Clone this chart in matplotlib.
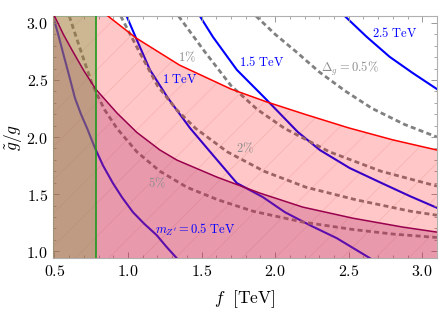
import numpy as np
import matplotlib.pyplot as plt
from matplotlib.ticker import MultipleLocator, FuncFormatter

plt.rcParams['mathtext.fontset'] = 'cm'
plt.rcParams['font.family'] = ['DejaVu Serif']
plt.rcParams['hatch.linewidth'] = 0.6

# plot range
xmin, xmax = 0.49, 3.1
ymin, ymax = 0.94, 3.06

# m_Z' contours (f [TeV], g~/g)
mz05_f = [0.49, 0.525, 0.558, 0.597, 0.639, 0.68, 0.721, 0.775, 0.83, 0.897, 0.96, 1.033, 1.11, 1.195, 1.26, 1.33]
mz05_y = [3.06, 2.90, 2.737, 2.55, 2.342, 2.20, 2.079, 1.904, 1.75, 1.596, 1.47, 1.342, 1.24, 1.14, 1.04, 0.94]
mz10_f = [0.99, 1.054, 1.149, 1.271, 1.421, 1.577, 1.740, 1.916, 2.066, 2.24, 2.419, 2.643]
mz10_y = [3.06, 2.868, 2.588, 2.342, 2.079, 1.842, 1.596, 1.474, 1.342, 1.225, 1.114, 0.94]
mz15_f = [1.488, 1.577, 1.740, 1.930, 2.154, 2.304, 2.507, 2.725, 2.92, 3.1]
mz15_y = [3.06, 2.877, 2.588, 2.342, 2.044, 1.886, 1.728, 1.596, 1.48, 1.38]
mz25_f = [2.473, 2.623, 2.779, 2.935, 3.1]
mz25_y = [3.06, 2.877, 2.702, 2.561, 2.42]

# Delta_g contours
d05_f = [1.87, 2.00, 2.14, 2.30, 2.48, 2.66, 2.88, 3.1]
d05_y = [3.06, 2.90, 2.75, 2.57, 2.40, 2.25, 2.11, 2.0]
d1_f = [1.343, 1.52, 1.70, 1.88, 2.065, 2.37, 2.72, 3.1]
d1_y = [3.06, 2.75, 2.45, 2.24, 2.075, 1.87, 1.70, 1.57]
d2_f = [0.95, 1.075, 1.20, 1.33, 1.46, 1.675, 1.925, 2.21, 2.55, 2.92, 3.1]
d2_y = [3.06, 2.75, 2.45, 2.24, 2.075, 1.87, 1.70, 1.56, 1.45, 1.35, 1.315]
d5_f = [0.60, 0.68, 0.76, 0.84, 0.925, 1.06, 1.217, 1.40, 1.611, 1.85, 2.188, 2.528, 2.8, 3.1]
d5_y = [3.06, 2.75, 2.45, 2.24, 2.075, 1.87, 1.70, 1.56, 1.45, 1.35, 1.255, 1.19, 1.15, 1.12]

# exclusion boundaries
red_f = [0.863, 1.054, 1.35, 1.5, 1.7, 1.944, 2.2, 2.5, 2.8, 3.1]
red_y = [3.06, 2.868, 2.63, 2.54, 2.42, 2.307, 2.20, 2.08, 1.975, 1.886]
pur_f = [0.50, 0.56, 0.62, 0.70, 0.78, 0.925, 1.06, 1.217, 1.332, 1.604, 1.896, 2.188, 2.528, 2.868, 3.1]
pur_y = [3.06, 2.90, 2.76, 2.58, 2.42, 2.21, 2.04, 1.886, 1.798, 1.649, 1.509, 1.386, 1.289, 1.211, 1.167]
f_cut = 0.78

fig = plt.figure(figsize=(4.4, 3.12), dpi=100)
ax = fig.add_axes([0.1205, 0.173, 0.8725, 0.7757])

blue = '#0000ff'
for fx, fy in [(mz05_f, mz05_y), (mz10_f, mz10_y), (mz15_f, mz15_y), (mz25_f, mz25_y)]:
    ax.plot(fx, fy, color=blue, lw=1.5, zorder=1)
for fx, fy in [(d05_f, d05_y), (d1_f, d1_y), (d2_f, d2_y), (d5_f, d5_y)]:
    ax.plot(fx, fy, color='#808080', lw=2, dashes=(1.8, 1.2), zorder=1)

# shaded regions
rx = [xmin, xmin] + red_f + [xmax]
ry = [ymin, ymax] + red_y + [ymin]
ax.fill(rx, ry, color='#ff0000', alpha=0.22, lw=0, zorder=2)
ax.fill(rx, ry, facecolor='none', edgecolor=(0.8, 0.3, 0.3, 0.15), hatch='/', lw=0, zorder=2)
px = [xmin, xmin] + pur_f + [xmax]
py = [ymin, ymax] + pur_y + [ymin]
ax.fill(px, py, color='#b4306e', alpha=0.3, lw=0, zorder=3)
ax.axvspan(xmin, f_cut, color='#82a046', alpha=0.4, lw=0, zorder=4)

ax.plot(red_f, red_y, color='#ff0000', lw=1.1, zorder=5)
ax.plot(pur_f, pur_y, color='#99004d', lw=1.1, zorder=5)
ax.axvline(f_cut, color='#1e9a1e', lw=1.2, zorder=5)

# labels
tk = dict(fontsize=9, ha='center', va='center', zorder=6)
ax.text(1.455, 1.184, r"$m_{Z'} = 0.5\ \mathrm{TeV}$", color=blue, **tk)
ax.text(1.353, 2.50, r"$1\ \mathrm{TeV}$", color=blue, **tk)
ax.text(1.91, 2.658, r"$1.5\ \mathrm{TeV}$", color=blue, **tk)
ax.text(2.813, 2.912, r"$2.5\ \mathrm{TeV}$", color=blue, **tk)
ax.text(2.507, 2.596, r"$\Delta_g = 0.5\%$", color='#8c8c8c', **tk)
ax.text(1.40, 2.702, r"$1\%$", color='#8c8c8c', **tk)
ax.text(1.794, 1.904, r"$2\%$", color='#8c8c8c', **tk)
ax.text(1.196, 1.596, r"$5\%$", color='#8c8c8c', **tk)

ax.set_xlim(xmin, xmax)
ax.set_ylim(ymin, ymax)
ax.xaxis.set_major_locator(MultipleLocator(0.5))
ax.xaxis.set_minor_locator(MultipleLocator(0.1))
ax.yaxis.set_major_locator(MultipleLocator(0.5))
ax.yaxis.set_minor_locator(MultipleLocator(0.1))
fmt = FuncFormatter(lambda v, p: r'$%.1f$' % v)
ax.xaxis.set_major_formatter(fmt)
ax.yaxis.set_major_formatter(fmt)
ax.tick_params(which='both', direction='in', top=True, right=True, color='#999999', labelsize=11.5)
ax.tick_params(which='major', length=4.5, width=0.7)
ax.tick_params(which='minor', length=2.5, width=0.6)
for s in ax.spines.values():
    s.set_color('#b0b0b0')
    s.set_linewidth(0.8)

ax.set_xlabel(r'$f\ \ [\mathrm{TeV}]$', fontsize=12.5, labelpad=6)
ax.set_ylabel(r'$\tilde{g}/g$', fontsize=12.5)
ax.yaxis.set_label_coords(-0.075, 0.5)

fig.savefig('out.png', dpi=100)
